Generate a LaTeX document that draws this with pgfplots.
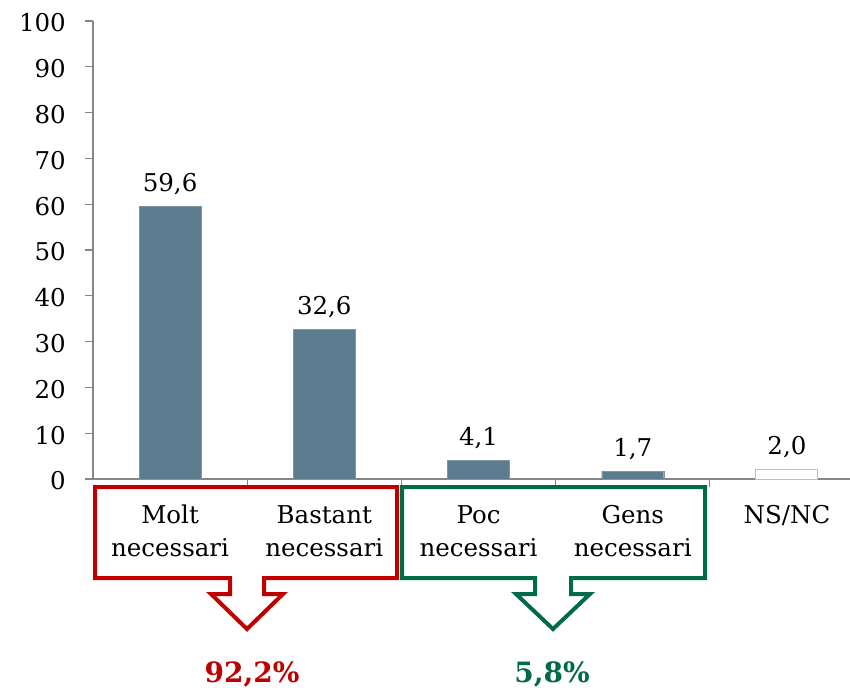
\documentclass[border=0pt]{standalone}
\usepackage{fontspec}
\setmainfont{DejaVu Serif}
\usepackage{pgfplots}
\pgfplotsset{compat=1.18}
\definecolor{barblue}{RGB}{92,125,143}
\definecolor{boxred}{RGB}{192,0,0}
\definecolor{boxgreen}{RGB}{0,106,74}
\definecolor{axisgray}{RGB}{134,134,134}
\newcommand{\lbl}{\fontsize{24.5}{33}\selectfont}
\begin{document}
\begin{tikzpicture}
\path[use as bounding box] (0pt,0pt) rectangle (850pt,-692pt);
\begin{axis}[
  at={(93pt,-479pt)}, anchor=south west,
  scale only axis, width=757pt, height=458pt,
  xmin=-0.5, xmax=4.409, ymin=0, ymax=100,
  axis x line*=bottom, axis y line*=left,
  axis line style={-, axisgray, line width=1.2pt},
  ytick={0,10,...,100},
  tick align=outside,
  major tick length=8pt,
  tick style={axisgray, line width=1.2pt},
  xtick={0.5,1.5,2.5,3.5}, xticklabels={},
  extra x ticks={0,1,2,3,4},
  extra x tick labels={{\strut Molt\\necessari},{\strut Bastant\\necessari},{\strut Poc\\necessari},{\strut Gens\\necessari},{\strut NS/NC\\\phantom{n}}},
  extra x tick style={major tick length=0pt, xticklabel style={align=center, anchor=north, inner sep=0pt, yshift=-21pt}},
  ticklabel style={font=\lbl},
  yticklabel style={anchor=east, inner sep=0pt, xshift=-19pt, yshift=-2pt},
  /pgf/number format/assume math mode=true,
  ybar, bar width=62pt,
  nodes near coords={\pgfmathprintnumber[fixed,fixed zerofill,precision=1,use comma]{\pgfplotspointmeta}},
  nodes near coords style={font=\lbl, anchor=base, yshift=15pt, inner sep=0pt, text=black},
  clip=false,
]
\addplot[fill=barblue, draw=barblue!80!white, bar shift=0pt] coordinates {(0,59.6) (1,32.6) (2,4.1) (3,1.7)};
\addplot[fill=white, draw=black!25, line width=1pt, bar shift=0pt] coordinates {(4,2.0)};
\end{axis}
\draw[boxred, line width=4pt, line join=miter] (95pt,-487pt) -- (397pt,-487pt) -- (397pt,-578pt) -- (264pt,-578pt) -- (264pt,-594pt) -- (283pt,-594pt) -- (247pt,-629pt) -- (211pt,-594pt) -- (230pt,-594pt) -- (230pt,-578pt) -- (95pt,-578pt) -- cycle;
\draw[boxgreen, line width=4pt, line join=miter] (402pt,-487pt) -- (705pt,-487pt) -- (705pt,-578pt) -- (571pt,-578pt) -- (571pt,-594pt) -- (590pt,-594pt) -- (553pt,-629pt) -- (516pt,-594pt) -- (535pt,-594pt) -- (535pt,-578pt) -- (402pt,-578pt) -- cycle;
\node[font=\fontsize{28}{30}\selectfont\bfseries, text=boxred, anchor=base] at (252pt,-682pt) {92,2\%};
\node[font=\fontsize{28}{30}\selectfont\bfseries, text=boxgreen, anchor=base] at (552pt,-682pt) {5,8\%};
\end{tikzpicture}
\end{document}
